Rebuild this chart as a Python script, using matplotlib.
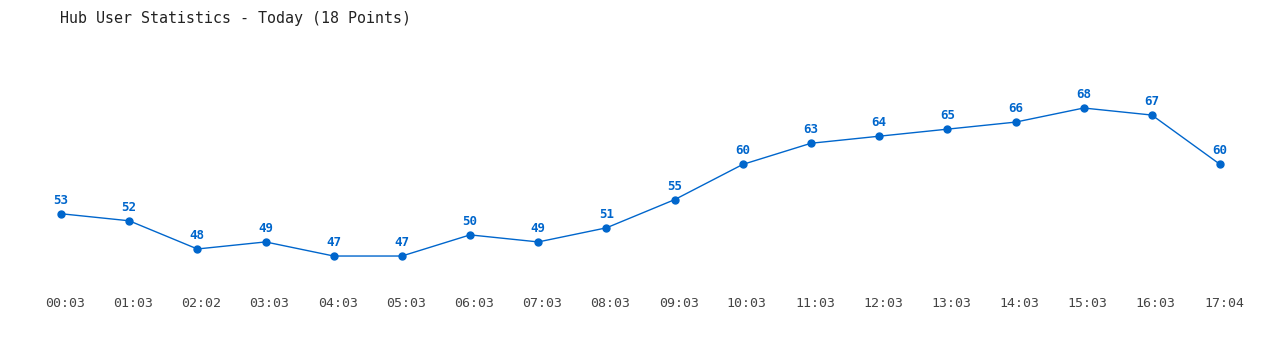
import matplotlib
matplotlib.use("Agg")
import matplotlib.pyplot as plt
from matplotlib.transforms import ScaledTranslation

times = ["00:03", "01:03", "02:02", "03:03", "04:03", "05:03", "06:03", "07:03", "08:03",
         "09:03", "10:03", "11:03", "12:03", "13:03", "14:03", "15:03", "16:03", "17:04"]
users = [53, 52, 48, 49, 47, 47, 50, 49, 51, 55, 60, 63, 64, 65, 66, 68, 67, 60]

blue = "#0066cc"
fig = plt.figure(figsize=(12.8, 3.5), dpi=100)
ax = fig.add_axes([0, 60 / 350, 1, 250 / 350])
x = list(range(len(users)))
ax.plot(x, users, color=blue, linewidth=1.0, marker="o", markersize=5, zorder=3)
for xi, v in zip(x, users):
    ax.annotate(str(v), (xi, v), xytext=(0, 5), textcoords="offset points",
                ha="center", va="bottom", color=blue, fontsize=9,
                fontweight="bold", family="DejaVu Sans Mono")
ax.set_xlim(-0.8947, 17.879)
ax.set_ylim(42.18, 77.65)
ax.set_xticks(x)
ax.set_xticklabels(times, family="DejaVu Sans Mono", fontsize=9.5, color="#444444")
ax.tick_params(axis="x", length=0, pad=5)
offset = ScaledTranslation(4 / 100, 0, fig.dpi_scale_trans)
for lbl in ax.get_xticklabels():
    lbl.set_transform(lbl.get_transform() + offset)
ax.set_yticks([])
for s in ax.spines.values():
    s.set_visible(False)
fig.text(60 / 1280, 1 - 18 / 350, "Hub User Statistics - Today (18 Points)",
         family="DejaVu Sans Mono", fontsize=10.8, color="#222222", va="center", ha="left")
fig.savefig("out.png", dpi=100, facecolor="white")
